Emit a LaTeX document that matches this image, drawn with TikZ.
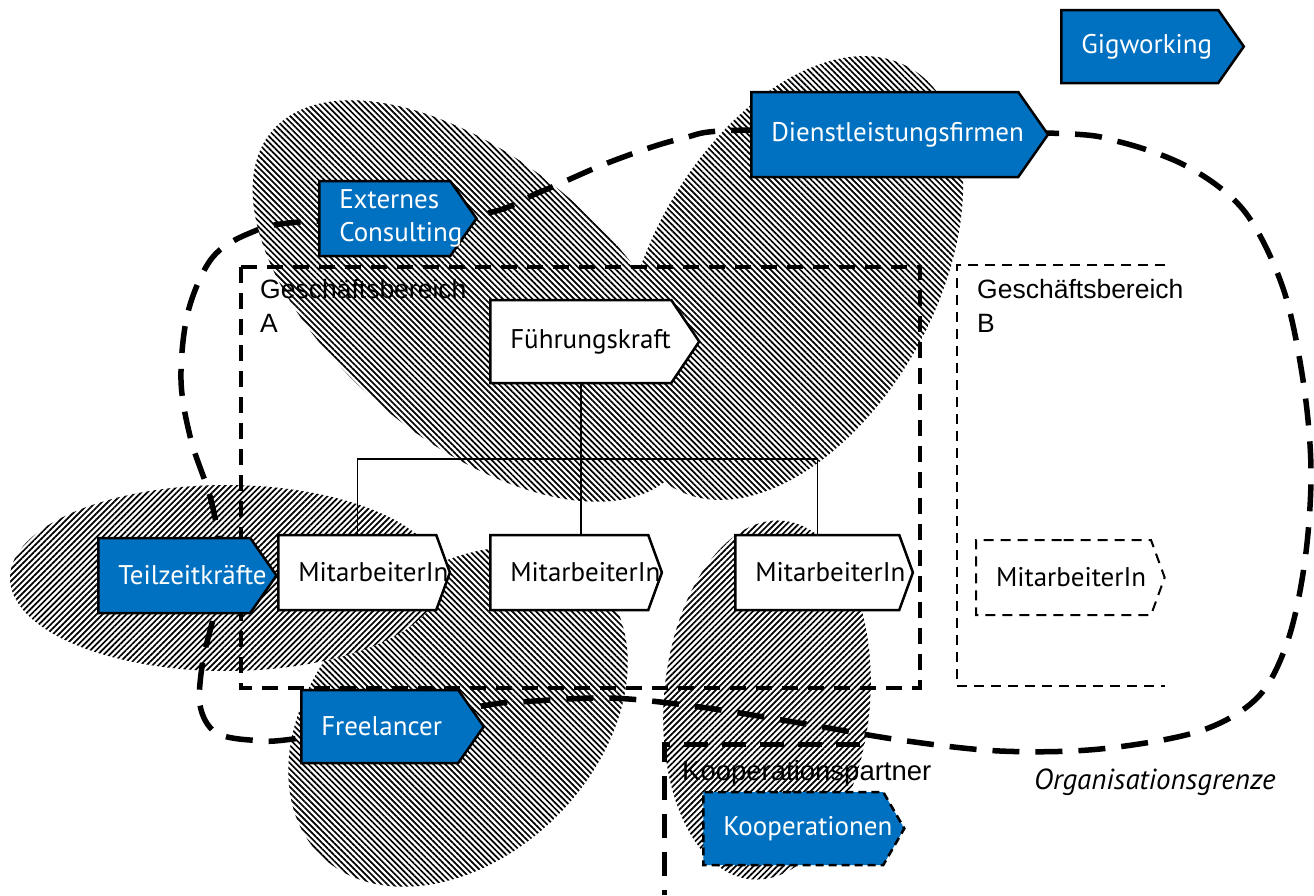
\documentclass[tikz,border=0pt]{standalone}
\usepackage{fontspec}
\setmainfont{PT Sans}
\newfontfamily\arialfont{Liberation Sans}
\usetikzlibrary{shapes.symbols,patterns.meta}
\definecolor{dblau}{HTML}{0070C0}
\hyphenpenalty=10000

% schraffierte Ellipse: Mitte x, Mitte y, Halbachse a, Halbachse b, Drehung, Schraffurwinkel
\newcommand\flaeche[6]{%
  \fill[schraffur=#6] plot[domain=0:360, samples=90, smooth cycle, variable=\t]
    ({#1+#3*cos(\t)*cos(#5)-#4*sin(\t)*sin(#5)}, {#2+#3*cos(\t)*sin(#5)+#4*sin(\t)*cos(#5)});}

\tikzset{
  kasten/.style={shape=signal, signal to=east, signal pointer angle=110, draw=black,
    line width=2.5pt, inner xsep=20pt, inner ysep=0pt, align=left,
    font=\fontsize{27}{33}\selectfont},
  blau/.style={kasten, fill=dblau, text=white},
  weiss/.style={kasten, fill=white, text=black, signal pointer angle=140},
  schraffur/.style={preaction={fill=white}, pattern={Lines[angle=#1, distance=4.2pt, line width=1.7pt]}},
  bereich/.style={dash pattern=on 16pt off 10pt, line width=4pt},
  bereichB/.style={dash pattern=on 10pt off 7pt, line width=2pt},
  grenze/.style={dash pattern=on 27pt off 16pt, line width=5.5pt},
  partner/.style={dash pattern=on 24pt off 14pt, line width=5pt},
  gbtext/.style={inner sep=0pt, align=left, font=\arialfont\fontsize{26.5}{34}\selectfont},
  orglinie/.style={line width=1.5pt}
}

\begin{document}
\begin{tikzpicture}[x=1pt, y=-1pt]
\useasboundingbox (0,0) rectangle (1314,895);

% schraffierte Flaechen
\flaeche{474}{301}{264}{140}{40}{-45}
\flaeche{792}{278}{241}{143}{-61}{-45}
\flaeche{458}{717}{195}{140}{-45}{-45}
\flaeche{226}{578}{216}{93}{0}{45}
\flaeche{767}{700}{103}{180}{5}{45}

% Geschaeftsbereiche
\draw[bereich] (241,267) rectangle (920,688);
\draw[bereichB] (1165,265) -- (957,265) -- (957,686) -- (1165,686);
\draw[partner] (860,744) -- (664,744) -- (664,895);

% Organisationsgrenze
\draw[grenze] plot[smooth cycle, tension=0.55] coordinates {
  (1047,133) (1120,142) (1190,168) (1245,212) (1283,288) (1303,380) (1311,470)
  (1305,560) (1288,640) (1258,697) (1200,731) (1100,749) (1000,751) (900,740)
  (800,723) (700,707) (610,698) (520,702) (482,706) (300,738) (250,740)
  (215,732) (200,705) (203,660) (215,610) (221,560) (211,500) (191,440)
  (181,380) (188,312) (212,258) (250,233) (300,222) (475,215) (540,192)
  (610,162) (680,139) (750,130)};

% Kaesten
\node[blau, text width=117pt, minimum height=73pt, anchor=west] (gig) at (1060,46.5) {Gigworking};
\node[blau, text width=227pt, minimum height=85pt, anchor=west] (dienst) at (750,134.5) {Dienstleistungsfirmen};
\node[blau, text width=91pt, minimum height=75pt, anchor=west] (extern) at (318,218.5) {Externes\\Consulting};
\node[weiss, signal pointer angle=112, text width=141pt, minimum height=83pt, anchor=west] (fk) at (489,341.5) {Führungskraft};
\node[blau, text width=112pt, minimum height=75pt, anchor=west] (teilzeit) at (97,575.5) {Teilzeitkräfte};
\node[weiss, text width=118pt, minimum height=75pt, anchor=west] (ma1) at (277,572.5) {MitarbeiterIn};
\node[weiss, text width=118pt, minimum height=75pt, anchor=west] (ma2) at (489,572.5) {MitarbeiterIn};
\node[weiss, text width=124pt, minimum height=75pt, anchor=west] (ma3) at (734,572.5) {MitarbeiterIn};
\node[weiss, bereichB, text width=135pt, minimum height=75pt, anchor=west] (mab) at (975,577.5) {MitarbeiterIn};
\node[blau, text width=117pt, minimum height=73pt, anchor=west] (freelancer) at (300,726.5) {Freelancer};
\node[blau, signal pointer angle=120, dash pattern=on 8pt off 5pt, text width=140pt, minimum height=73pt, anchor=west] (koop) at (702,828.5) {Kooperationen};

% Organigramm
\draw[orglinie] (fk.south) -- (fk.south |- ma2.north);
\draw[orglinie] (ma1.north) -- ++(0,-75) -| (ma3.north);

% Beschriftungen
\node[gbtext, anchor=north west] (gbA) at (260,279) {Geschäftsbereich\\A};
\node[gbtext, anchor=north west] (gbB) at (977,279) {Geschäftsbereich\\B};
\node[gbtext, anchor=west, font=\arialfont\fontsize{27.5}{34}\selectfont] (kpartner) at (682,773) {Kooperationspartner};
\node[inner sep=0pt, anchor=west, font=\itshape\fontsize{29}{34}\selectfont] (grenzlabel) at (1034,782) {Organisationsgrenze};

\end{tikzpicture}
\end{document}
